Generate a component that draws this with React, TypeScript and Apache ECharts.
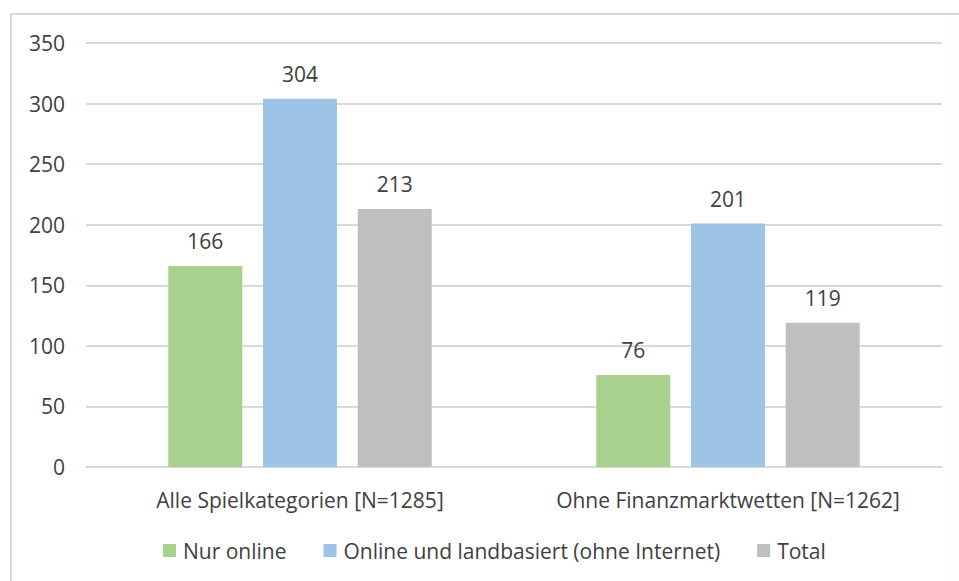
import React, { useEffect, useRef } from "react";
import * as echarts from "echarts";

const categories = ["Alle Spielkategorien [N=1285]", "Ohne Finanzmarktwetten [N=1262]"];
const seriesNames = ["Nur online", "Online und landbasiert (ohne Internet)", "Total"];
const nurOnline = [166, 76];
const onlineLand = [304, 201];
const total = [213, 119];
const colors = ["#a9d18e", "#9dc3e6", "#bfbfbf"];

const FONT = "Open Sans";
const FS = 21;

export default function App() {
  const ref = useRef<HTMLDivElement>(null);
  useEffect(() => {
    document.body.style.margin = "0";
    document.body.style.overflow = "hidden";
    document.documentElement.style.overflow = "hidden";
    const chart = echarts.init(ref.current!, null, { renderer: "svg" });
    const values = [nurOnline, onlineLand, total];
    chart.setOption({
      animation: false,
      backgroundColor: "#ffffff",
      textStyle: { fontFamily: FONT },
      graphic: [
        {
          type: "rect",
          shape: { x: 946, y: 16, width: 13, height: 565 },
          style: { fill: "#fefefe" },
          silent: true,
        },
        {
          type: "line",
          shape: { x1: 10, y1: 14, x2: 959, y2: 14 },
          style: { stroke: "#d9d9d9", lineWidth: 2 },
          silent: true,
        },
        {
          type: "line",
          shape: { x1: 11, y1: 13, x2: 11, y2: 581 },
          style: { stroke: "#d9d9d9", lineWidth: 2 },
          silent: true,
        },
      ],
      grid: { left: 86, right: 17, top: 43, bottom: 114 },
      xAxis: {
        type: "category",
        data: categories,
        axisTick: { show: false },
        axisLine: { lineStyle: { color: "#d9d9d9", width: 2 } },
        axisLabel: { color: "#404040", fontSize: FS, fontFamily: FONT, margin: 22, interval: 0 },
      },
      yAxis: {
        type: "value",
        min: 0,
        max: 350,
        interval: 50,
        axisLine: { show: false },
        axisTick: { show: false },
        splitLine: { lineStyle: { color: "#d9d9d9", width: 2 } },
        axisLabel: { color: "#404040", fontSize: FS, fontFamily: FONT, margin: 21 },
      },
      legend: {
        top: 535,
        left: 158,
        itemWidth: 13,
        itemHeight: 13,
        itemGap: 37,
        icon: "rect",
        textStyle: { color: "#404040", fontSize: FS, fontFamily: FONT, padding: [0, 0, 0, 2] },
        data: seriesNames,
      },
      series: seriesNames.map((name, i) => ({
        name,
        type: "bar",
        data: values[i],
        barWidth: 74,
        barGap: "28%",
        itemStyle: { color: colors[i] },
        label: {
          show: true,
          position: "top",
          distance: 14,
          color: "#404040",
          fontSize: FS,
          fontFamily: FONT,
        },
      })),
    });
    return () => chart.dispose();
  }, []);
  return (
    <div
      ref={ref}
      style={{ position: "fixed", left: 0, top: 0, width: 959, height: 581 }}
    />
  );
}
